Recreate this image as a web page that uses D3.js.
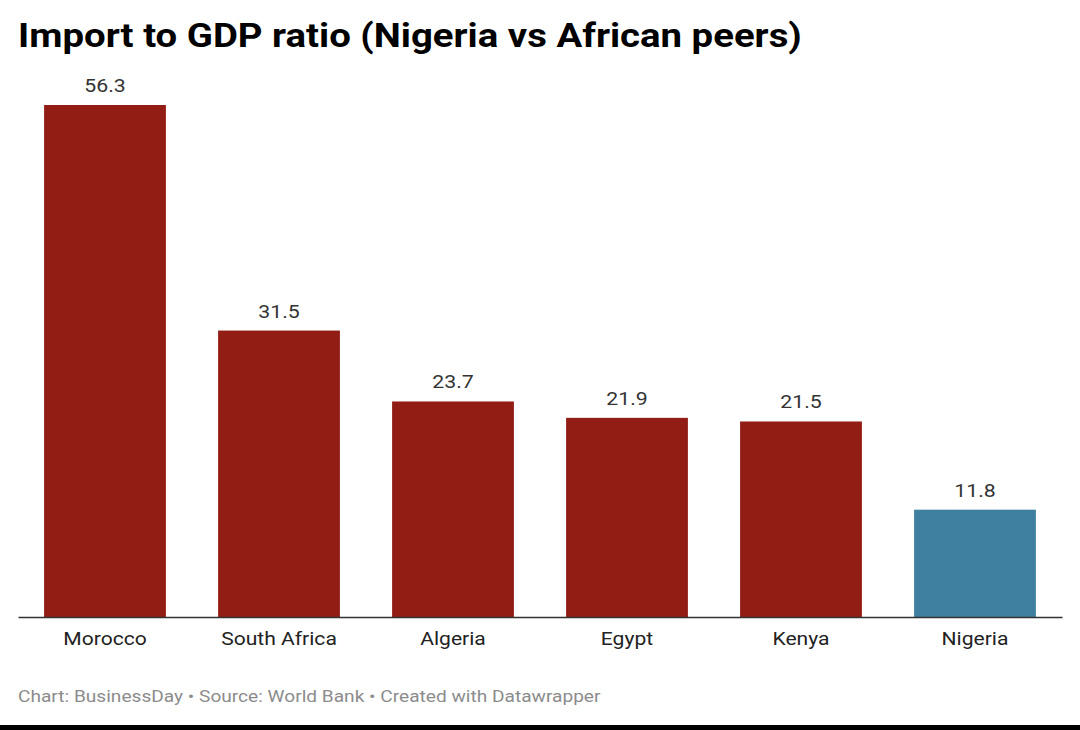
<!DOCTYPE html>
<html>
<head>
<meta charset="utf-8">
<script src="https://cdn.jsdelivr.net/npm/d3@7"></script>
<style>
  body { margin: 0; background: #fff; }
  text { font-family: Roboto, "Noto Sans", sans-serif; }
</style>
</head>
<body>
<script>
const countries = ["Morocco", "South Africa", "Algeria", "Egypt", "Kenya", "Nigeria"];
const ratios = [56.3, 31.5, 23.7, 21.9, 21.5, 11.8];
const highlight = "Nigeria";

const width = 1080;
const height = 730;
const margin = {top: 105, right: 18, bottom: 113, left: 18};
// the source image is a bit wider than tall, so text gets stretched sideways
const stretch = 1.12;

const data = countries.map((c, i) => ({country: c, value: ratios[i]}));

var svg = d3.select("body").append("svg")
  .attr("width", width)
  .attr("height", height);

svg.append("text")
  .attr("transform", `translate(18, 47) scale(${stretch + 0.008}, 1)`)
  .attr("font-size", 34)
  .attr("font-weight", 700)
  .attr("fill", "#000")
  .text("Import to GDP ratio (Nigeria vs African peers)");

var xscale = d3.scaleBand()
  .domain(countries)
  .range([margin.left, width - margin.right])
  .paddingInner(0.3)
  .paddingOuter(0.15);

var yscale = d3.scaleLinear()
  .domain([0, 56.3])
  .range([height - margin.bottom, margin.top]);

const base = yscale(0);

svg.selectAll("rect.bar")
  .data(data)
  .enter()
  .append("rect")
  .attr("class", "bar")
  .attr("x", d => xscale(d.country))
  .attr("y", d => yscale(d.value))
  .attr("width", xscale.bandwidth())
  .attr("height", d => base - yscale(d.value))
  .attr("fill", d => d.country === highlight ? "#3f80a0" : "#921d14");

svg.selectAll("text.val")
  .data(data)
  .enter()
  .append("text")
  .attr("class", "val")
  .attr("transform", d => `translate(${xscale(d.country) + xscale.bandwidth() / 2}, ${yscale(d.value) - 13}) scale(${stretch}, 1)`)
  .attr("text-anchor", "middle")
  .attr("font-size", 19)
  .attr("fill", "#333")
  .text(d => d.value.toFixed(1));

var xaxis = d3.axisBottom(xscale).tickSize(0).tickPadding(15);

var ax = svg.append("g")
  .attr("transform", `translate(0, ${base})`)
  .call(xaxis);
ax.select(".domain").attr("stroke", "#333").attr("stroke-width", 1.5);
ax.selectAll("text")
  .attr("transform", `scale(${stretch - 0.01}, 1)`)
  .attr("font-size", 19)
  .attr("font-family", "Roboto, sans-serif")
  .attr("fill", "#222");

svg.append("text")
  .attr("transform", `translate(18, 702) scale(${stretch + 0.005}, 1)`)
  .attr("font-size", 17)
  .attr("fill", "#8c8c8c")
  .text("Chart: BusinessDay • Source: World Bank • Created with Datawrapper");

svg.append("rect")
  .attr("x", 0)
  .attr("y", 725)
  .attr("width", width)
  .attr("height", 5)
  .attr("fill", "#000");
</script>
</body>
</html>
